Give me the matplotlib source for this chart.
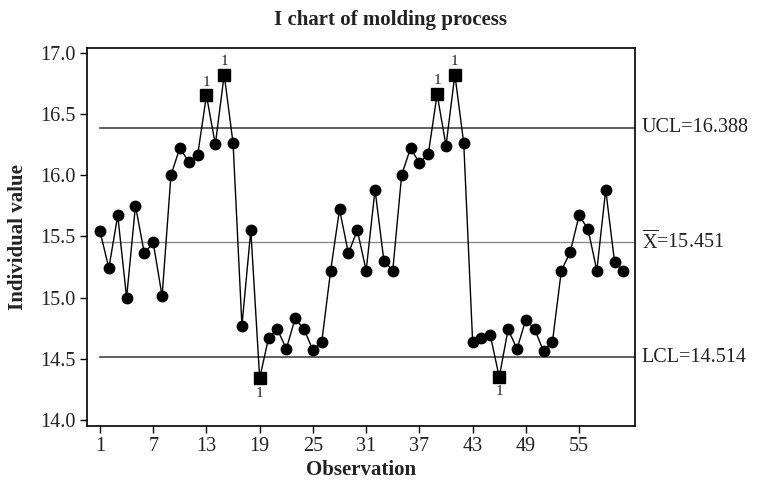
import numpy as np
import matplotlib
matplotlib.use("Agg")
import matplotlib.pyplot as plt

plt.rcParams['font.family'] = ['Liberation Serif', 'DejaVu Serif']
plt.rcParams['mathtext.fontset'] = 'custom'
plt.rcParams['mathtext.rm'] = 'Liberation Serif'

# individual values, observations 1..60
values = [15.54, 15.24, 15.67, 15.00, 15.75, 15.36, 15.45, 15.01, 16.00, 16.22,
          16.11, 16.16, 16.65, 16.25, 16.82, 16.26, 14.77, 15.55, 14.34, 14.67,
          14.74, 14.58, 14.83, 14.74, 14.57, 14.64, 15.22, 15.72, 15.36, 15.55,
          15.22, 15.88, 15.30, 15.22, 16.00, 16.22, 16.10, 16.17, 16.66, 16.24,
          16.82, 16.26, 14.64, 14.67, 14.69, 14.35, 14.74, 14.58, 14.82, 14.74,
          14.56, 14.64, 15.22, 15.37, 15.67, 15.56, 15.22, 15.88, 15.29, 15.22]
ucl = 16.388
center = 15.451
lcl = 14.514
xticks = [1, 7, 13, 19, 25, 31, 37, 43, 49, 55]
yticks = [14.0, 14.5, 15.0, 15.5, 16.0, 16.5, 17.0]

obs = np.arange(1, len(values) + 1)
vals = np.array(values)
out = (vals > ucl) | (vals < lcl)

fig = plt.figure(figsize=(7.59, 4.83), dpi=100)
ax = fig.add_axes([0.1142, 0.1186, 0.7224, 0.7826])

xmax = 61.3
ax.plot([1, xmax], [ucl, ucl], color='#444444', lw=1.2)
ax.plot([1, xmax], [lcl, lcl], color='#444444', lw=1.2)
ax.plot([1, xmax], [center, center], color='#8a8a8a', lw=1.0)

ax.plot(obs, vals, color='black', lw=1.0, zorder=3)
ax.plot(obs[~out], vals[~out], 'o', color='black', ms=7.5, zorder=4)
ax.plot(obs[out], vals[out], 's', color='black', ms=8, zorder=4)
for x, v in zip(obs[out], vals[out]):
    if v > ucl:
        ax.annotate('1', (x, v), xytext=(0, 5), textcoords='offset points',
                    ha='center', va='bottom', fontsize=11, color='#222222')
    else:
        ax.annotate('1', (x, v), xytext=(0, -6), textcoords='offset points',
                    ha='center', va='top', fontsize=11, color='#222222')

ax.set_xlim(-0.5, xmax)
ax.set_ylim(13.953, 17.04)
ax.set_xticks(xticks)
ax.set_yticks(yticks)
ax.set_yticklabels(['%.1f' % t for t in yticks])
ax.tick_params(direction='out', length=5, width=1, labelsize=14.5, colors='black',
               labelcolor='#222222', pad=3)
for s in ax.spines.values():
    s.set_linewidth(1.2)

trans = ax.get_yaxis_transform()
ax.text(1.012, ucl, 'UCL=16.388', transform=trans, va='center', ha='left',
        fontsize=14.5, color='#222222')
ax.text(1.012, center, r'$\overline{\mathrm{X}}$=15.451', transform=trans, va='center',
        ha='left', fontsize=14.5, color='#222222')
ax.text(1.012, lcl, 'LCL=14.514', transform=trans, va='center', ha='left',
        fontsize=14.5, color='#222222')

ax.set_xlabel('Observation', fontsize=15, fontweight='bold', labelpad=3, color='#222222')
ax.set_ylabel('Individual value', fontsize=15, fontweight='bold', labelpad=9, color='#222222')
fig.text(0.515, 0.958, 'I chart of molding process', ha='center', va='center',
         fontsize=15, fontweight='bold', color='#222222')

fig.savefig('out.png', dpi=100)
